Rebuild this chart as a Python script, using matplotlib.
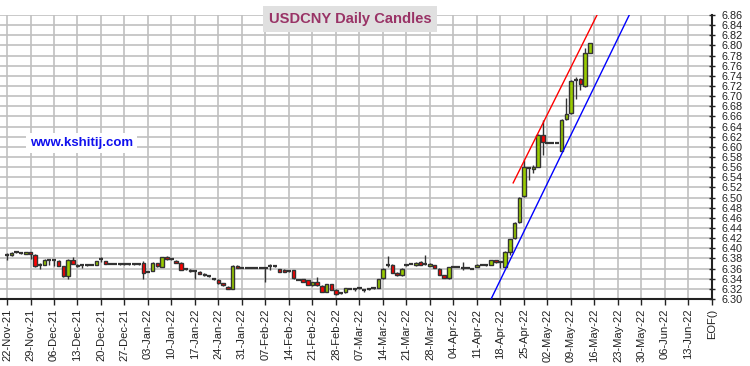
import matplotlib
matplotlib.use("Agg")
import matplotlib.pyplot as plt

plt.rcParams['font.family'] = ['Liberation Sans', 'DejaVu Sans']

# daily candles, one per trading day starting 22-Nov-21
opens = [6.387, 6.386, 6.392, 6.391, 6.389, 6.392, 6.387, 6.368, 6.368, 6.377,
         6.376, 6.375, 6.365, 6.345, 6.377, 6.368, 6.367, 6.368, 6.368, 6.368,
         6.378, 6.374, 6.370, 6.370, 6.369, 6.369, 6.369, 6.369, 6.369, 6.372,
         6.354, 6.356, 6.371, 6.364, 6.382, 6.378, 6.375, 6.372, 6.360, 6.358,
         6.355, 6.354, 6.350, 6.345, 6.339, 6.338, 6.331, 6.324, 6.320, 6.366,
         6.362, 6.362, 6.362, 6.362, 6.362, 6.362, 6.365, 6.365, 6.359, 6.358,
         6.355, 6.357, 6.338, 6.339, 6.337, 6.327, 6.333, 6.326, 6.314, 6.329,
         6.318, 6.311, 6.313, 6.320, 6.320, 6.321, 6.318, 6.320, 6.321, 6.322,
         6.341, 6.368, 6.368, 6.352, 6.347, 6.367, 6.370, 6.367, 6.373, 6.369,
         6.366, 6.367, 6.360, 6.347, 6.341, 6.364, 6.364, 6.362, 6.362, 6.360,
         6.364, 6.368, 6.367, 6.368, 6.376, 6.373, 6.364, 6.393, 6.420, 6.451,
         6.503, 6.559, 6.556, 6.561, 6.623, 6.608, 6.608, 6.608, 6.592, 6.654,
         6.666, 6.732, 6.734, 6.720, 6.786]
closes = [6.387, 6.391, 6.392, 6.391, 6.392, 6.388, 6.365, 6.368, 6.377, 6.377,
          6.376, 6.366, 6.345, 6.377, 6.370, 6.366, 6.367, 6.368, 6.368, 6.374,
          6.378, 6.370, 6.370, 6.370, 6.369, 6.369, 6.369, 6.369, 6.369, 6.352,
          6.354, 6.372, 6.365, 6.382, 6.378, 6.378, 6.372, 6.358, 6.360, 6.355,
          6.355, 6.350, 6.347, 6.345, 6.339, 6.331, 6.327, 6.320, 6.365, 6.362,
          6.362, 6.362, 6.362, 6.362, 6.362, 6.362, 6.365, 6.365, 6.354, 6.354,
          6.355, 6.341, 6.338, 6.334, 6.328, 6.333, 6.327, 6.314, 6.329, 6.318,
          6.310, 6.311, 6.321, 6.320, 6.320, 6.321, 6.318, 6.320, 6.321, 6.339,
          6.360, 6.368, 6.352, 6.347, 6.360, 6.367, 6.370, 6.372, 6.368, 6.369,
          6.370, 6.362, 6.348, 6.342, 6.363, 6.364, 6.364, 6.362, 6.362, 6.360,
          6.368, 6.368, 6.367, 6.376, 6.373, 6.373, 6.392, 6.418, 6.449, 6.500,
          6.561, 6.559, 6.561, 6.623, 6.609, 6.608, 6.608, 6.608, 6.653, 6.664,
          6.730, 6.732, 6.723, 6.786, 6.804]
highs = [6.390, 6.392, 6.394, 6.392, 6.393, 6.393, 6.388, 6.371, 6.378, 6.379,
         6.377, 6.376, 6.366, 6.378, 6.383, 6.369, 6.368, 6.369, 6.369, 6.375,
         6.382, 6.375, 6.371, 6.371, 6.370, 6.370, 6.370, 6.370, 6.370, 6.375,
         6.355, 6.373, 6.372, 6.383, 6.384, 6.380, 6.376, 6.373, 6.361, 6.359,
         6.356, 6.355, 6.351, 6.346, 6.341, 6.339, 6.332, 6.325, 6.368, 6.367,
         6.363, 6.363, 6.363, 6.363, 6.363, 6.363, 6.369, 6.366, 6.360, 6.359,
         6.356, 6.358, 6.339, 6.340, 6.338, 6.334, 6.343, 6.327, 6.330, 6.330,
         6.319, 6.312, 6.322, 6.321, 6.321, 6.322, 6.319, 6.321, 6.322, 6.340,
         6.361, 6.384, 6.369, 6.353, 6.361, 6.368, 6.371, 6.373, 6.374, 6.387,
         6.371, 6.368, 6.361, 6.348, 6.364, 6.365, 6.365, 6.373, 6.363, 6.361,
         6.369, 6.369, 6.368, 6.377, 6.377, 6.374, 6.394, 6.419, 6.451, 6.502,
         6.575, 6.561, 6.564, 6.625, 6.653, 6.609, 6.609, 6.609, 6.655, 6.696,
         6.731, 6.738, 6.736, 6.794, 6.805]
lows = [6.376, 6.385, 6.391, 6.389, 6.388, 6.378, 6.364, 6.360, 6.367, 6.367,
        6.365, 6.365, 6.344, 6.339, 6.369, 6.364, 6.362, 6.366, 6.367, 6.367,
        6.373, 6.369, 6.369, 6.369, 6.368, 6.368, 6.368, 6.368, 6.368, 6.339,
        6.353, 6.355, 6.364, 6.363, 6.377, 6.376, 6.371, 6.357, 6.358, 6.354,
        6.339, 6.349, 6.346, 6.344, 6.337, 6.330, 6.326, 6.319, 6.319, 6.361,
        6.361, 6.361, 6.361, 6.361, 6.361, 6.334, 6.357, 6.364, 6.353, 6.353,
        6.354, 6.340, 6.337, 6.333, 6.327, 6.326, 6.326, 6.313, 6.313, 6.317,
        6.308, 6.310, 6.312, 6.319, 6.316, 6.320, 6.314, 6.318, 6.320, 6.321,
        6.340, 6.363, 6.351, 6.346, 6.346, 6.366, 6.369, 6.366, 6.367, 6.368,
        6.365, 6.361, 6.347, 6.341, 6.340, 6.363, 6.363, 6.357, 6.361, 6.359,
        6.363, 6.367, 6.366, 6.367, 6.372, 6.362, 6.363, 6.386, 6.419, 6.449,
        6.502, 6.535, 6.548, 6.560, 6.584, 6.607, 6.607, 6.607, 6.591, 6.653,
        6.665, 6.695, 6.712, 6.719, 6.785]

tick_labels = ["22-Nov-21", "29-Nov-21", "06-Dec-21", "13-Dec-21", "20-Dec-21", "27-Dec-21",
               "03-Jan-22", "10-Jan-22", "17-Jan-22", "24-Jan-22", "31-Jan-22", "07-Feb-22",
               "14-Feb-22", "21-Feb-22", "28-Feb-22", "07-Mar-22", "14-Mar-22", "21-Mar-22",
               "28-Mar-22", "04-Apr-22", "11-Apr-22", "18-Apr-22", "25-Apr-22", "02-May-22",
               "09-May-22", "16-May-22", "23-May-22", "30-May-22", "06-Jun-22", "13-Jun-22",
               "EOF()"]

# trend channel drawn on the chart (bar index, price)
red_x = [107.7, 125.7]
red_y = [6.529, 6.863]
blue_x = [103.0, 132.4]
blue_y = [6.30, 6.86]

up_col = "#99CC00"
down_col = "#FF0000"
edge = "#333333"

fig = plt.figure(figsize=(7.5, 3.66), dpi=100)
ax = fig.add_axes([0.0, 0.183, 0.9493, 0.776])

x = list(range(len(opens)))
ax.vlines(x, lows, highs, color=edge, lw=1, zorder=3)
for i in x:
    o, c = opens[i], closes[i]
    if abs(c - o) < 0.001:
        ax.hlines(o, i - 0.45, i + 0.45, color=edge, lw=1.6, zorder=4)
    else:
        col = up_col if c > o else down_col
        ax.bar(i, abs(c - o), bottom=min(o, c), width=0.75, color=col,
               edgecolor=edge, linewidth=1, zorder=4)

ax.plot(red_x, red_y, color="red", lw=1, zorder=5)
ax.plot(blue_x, blue_y, color="blue", lw=1, zorder=5)

ax.set_xlim(-1.49, 150)
ax.set_ylim(6.30, 6.86)

ax.set_xticks([5 * k for k in range(len(tick_labels))])
ax.set_xticklabels(tick_labels, rotation=90, fontsize=8, color="#222222")
yt = [6.30 + 0.02 * k for k in range(29)]
ax.set_yticks(yt)
ax.set_yticklabels(["%.2f" % v for v in yt], fontsize=7.8, color="#222222")
ax.yaxis.tick_right()
ax.tick_params(axis="y", direction="inout", length=5, width=1, pad=4, color="#222222")
ax.tick_params(axis="x", direction="out", length=4, width=1, pad=3, color="#222222")

ax.grid(True, color="#C0C0C0", lw=1.2)
ax.set_axisbelow(True)
for s in ["left", "top"]:
    ax.spines[s].set_visible(False)
ax.spines["bottom"].set_color("#222222")
ax.spines["bottom"].set_linewidth(1.5)
ax.spines["right"].set_color("#222222")
ax.spines["right"].set_linewidth(1.5)

fig.text(0.467, 0.948, "USDCNY Daily Candles", ha="center", va="center",
         fontsize=10.6, fontweight="bold", color="#993366",
         bbox=dict(boxstyle="square,pad=0.38", fc="#E0E0E0", ec="none"))
fig.text(0.04, 0.609, "www.kshitij.com", ha="left", va="center",
         fontsize=9.5, fontweight="bold", color="#1010EE",
         bbox=dict(boxstyle="square,pad=0.3", fc="white", ec="none"))

fig.savefig("out.png", dpi=100)
